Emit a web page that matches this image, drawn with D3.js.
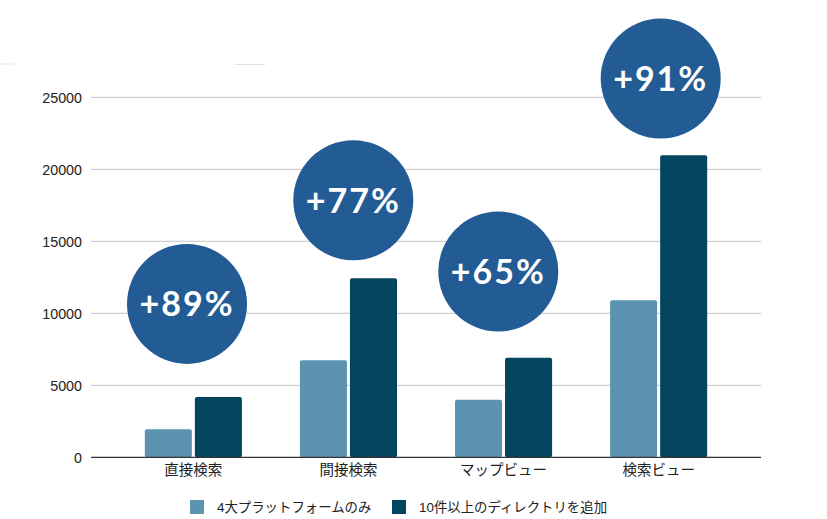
<!DOCTYPE html>
<html lang="ja">
<head>
<meta charset="UTF-8">
<title>Chart</title>
<script src="https://d3js.org/d3.v7.min.js"></script>
<style>
  body { margin: 0; background: #fff; }
  svg text { font-family: "Liberation Sans", Arial, "Noto Sans CJK JP", sans-serif; }
  .grid line { stroke: #cfcfcf; stroke-width: 1.3px; }
  .badge text { font-family: Lato, "Open Sans", sans-serif; font-weight: 700; }
</style>
</head>
<body>
<div id="chart"></div>
<script>
// data
const categories = ["直接検索", "間接検索", "マップビュー", "検索ビュー"];
const seriesNames = ["4大プラットフォームのみ", "10件以上のディレクトリを追加"];
const platformsOnly = [1950, 6740, 4000, 10900];
const withDirectories = [4190, 12430, 6920, 20970];
const badgeLabels = ["+89%", "+77%", "+65%", "+91%"];
const badgeAt = [10650, 17850, 12900, 26300];   // badge centre, in chart units
const yTicks = [0, 5000, 10000, 15000, 20000, 25000];

const W = 827, H = 519;
const colors = ["#5b93b0", "#03445f"];

const svg = d3.select("#chart").append("svg")
  .attr("width", W).attr("height", H);

const x = d3.scaleBand().domain(categories)
  .range([91, 761]).paddingInner(0.374).paddingOuter(0.347);
const x1 = d3.scaleBand().domain(seriesNames)
  .range([0, x.bandwidth()]).paddingInner(0.06);
const y = d3.scaleLinear().domain([0, 25000]).range([457.3, 97.3]);

// faint stray marks at the top of the original
svg.append("line").attr("x1", 0).attr("x2", 14).attr("y1", 64).attr("y2", 64)
  .attr("stroke", "#e4e4e8").attr("stroke-width", 1);
svg.append("line").attr("x1", 235).attr("x2", 265).attr("y1", 64.5).attr("y2", 64.5)
  .attr("stroke", "#e0e0e0").attr("stroke-width", 1);

// grid + y labels
const grid = svg.append("g").attr("class", "grid");
grid.selectAll("line").data(yTicks.filter(d => d > 0)).join("line")
  .attr("x1", 91).attr("x2", 761)
  .attr("y1", d => y(d)).attr("y2", d => y(d));

const yAxis = svg.append("g").attr("transform", "translate(91,0)")
  .call(d3.axisLeft(y).tickValues(yTicks).tickSize(0).tickPadding(9).tickFormat(d3.format("d")));
yAxis.select(".domain").remove();
yAxis.selectAll("text").attr("font-size", 14.3).attr("fill", "#222").attr("dy", "0.36em");

// bars
const rows = categories.map((c, i) => ({
  cat: c,
  vals: [platformsOnly[i], withDirectories[i]]
}));

const groups = svg.append("g").selectAll("g").data(rows).join("g")
  .attr("transform", d => `translate(${x(d.cat)},0)`);

groups.selectAll("rect")
  .data(d => d.vals.map((v, j) => ({ key: seriesNames[j], v, j })))
  .join("rect")
  .attr("x", d => x1(d.key))
  .attr("y", d => y(d.v))
  .attr("width", x1.bandwidth())
  .attr("height", d => y(0) - y(d.v))
  .attr("rx", 2)
  .attr("fill", d => colors[d.j]);

// baseline + category labels
const xAxis = svg.append("g").attr("transform", `translate(0,${y(0)})`)
  .call(d3.axisBottom(x).tickSize(0).tickPadding(7));
xAxis.select(".domain").remove();
xAxis.selectAll("text").attr("font-size", 14.5).attr("fill", "#222")
  .attr("font-family", "'Noto Sans CJK JP', sans-serif");
svg.append("line").attr("x1", 91).attr("x2", 761)
  .attr("y1", y(0)).attr("y2", y(0))
  .attr("stroke", "#333").attr("stroke-width", 1.3);

// badges
const badgeX = [187, 353.3, 498.3, 660.7];
const badges = svg.append("g").attr("class", "badge").selectAll("g")
  .data(badgeLabels).join("g")
  .attr("transform", (d, i) => `translate(${badgeX[i]},${y(badgeAt[i])})`);
badges.append("circle").attr("r", 60).attr("fill", "#235b95");
badges.append("text").text(d => d)
  .attr("text-anchor", "middle").attr("dy", "0.36em")
  .attr("font-size", 34).attr("letter-spacing", 2).attr("fill", "#fff");

// legend
const legend = svg.append("g").attr("transform", "translate(0,507)");
const legX = [190, 392];
const li = legend.selectAll("g").data(seriesNames).join("g")
  .attr("transform", (d, i) => `translate(${legX[i]},0)`);
li.append("rect").attr("x", 0).attr("y", -7).attr("width", 14).attr("height", 14)
  .attr("fill", (d, i) => colors[i]);
li.append("text").text(d => d).attr("x", 27).attr("dy", "0.36em")
  .attr("font-size", 13.4).attr("fill", "#222")
  .attr("font-family", "'Noto Sans CJK JP', sans-serif");
</script>
</body>
</html>
